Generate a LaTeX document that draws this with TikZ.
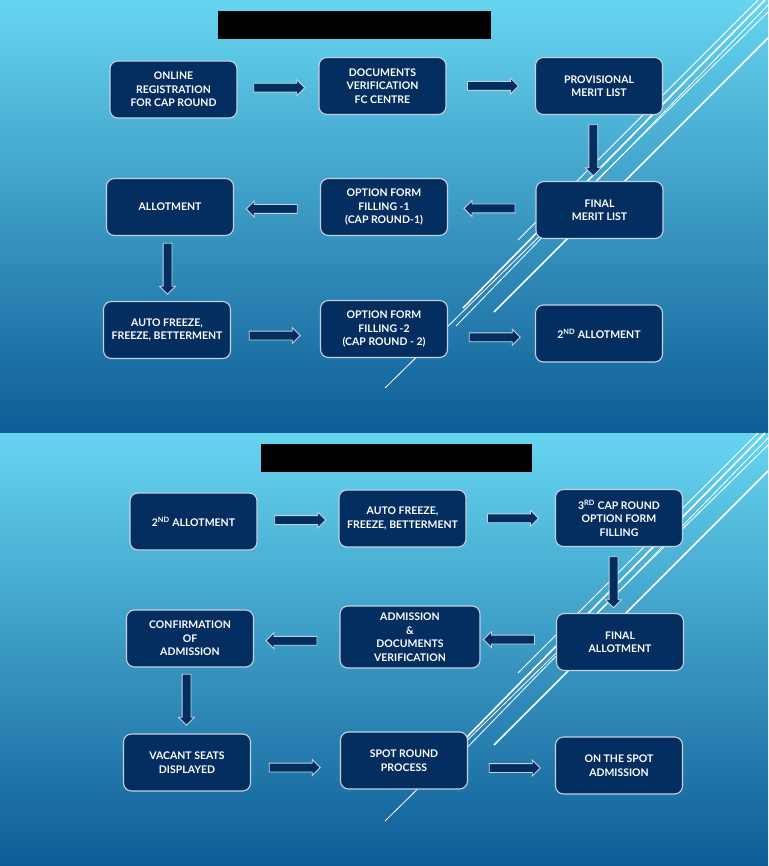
\documentclass[tikz,border=0pt]{standalone}
\usepackage{fontspec}
\setmainfont{Lato}
\usetikzlibrary{shapes.arrows,positioning,calc}
\definecolor{BoxNavy}{RGB}{4,46,96}
\definecolor{EdgeGrey}{RGB}{196,210,224}
\definecolor{SkyTop}{RGB}{102,213,240}
\definecolor{SkyBottom}{RGB}{14,92,150}
\tikzset{
  cnode/.style={rectangle,rounded corners=8pt,draw=EdgeGrey,fill=BoxNavy,line width=1.1pt,
                text=white,font=\fontsize{10.5}{13.5}\selectfont\bfseries,align=center,
                minimum width=127pt,minimum height=57pt,inner sep=2pt},
  cwide/.style={cnode,minimum width=140pt,minimum height=62pt},
  carrow/.style={single arrow,draw=EdgeGrey,fill=BoxNavy,line width=0.8pt,
                 minimum height=51pt,inner sep=0pt,inner ysep=4pt,
                 single arrow head extend=3.5pt},
  cdown/.style={carrow,rotate=-90},
  cleft/.style={carrow,rotate=180},
  sline/.style={white,line width=0.8pt},
  sthick/.style={white,line width=1.6pt},
}

\begin{document}
\begin{tikzpicture}[x=1pt,y=-1pt]
  \useasboundingbox (0,0) rectangle (768,866);

  % two slides: background, slashes, title bar
  \foreach \oy/\tl/\tr in {0/218/491,433/261/532}{
    \shade[top color=SkyTop,bottom color=SkyBottom] (0,\oy) rectangle (768,\oy+433);
    \draw[sline]  (758,\oy)    -- (518,\oy+240);
    \draw[sthick] (765,\oy)    -- (463,\oy+308);
    \draw[sline]  (768,\oy+5)  -- (456,\oy+326);
    \draw[sline]  (768,\oy+12) -- (385,\oy+388);
    \draw[sthick] (768,\oy+38) -- (494,\oy+312);
    \fill[black] (\tl,\oy+11) rectangle (\tr,\oy+39);
  }

  % first slide
  \node[cnode] (reg)    at (173.5,89.5) {ONLINE\\REGISTRATION\\FOR CAP ROUND};
  \node[cnode] (docv)   at (382.5,86)   {DOCUMENTS\\VERIFICATION\\FC CENTRE};
  \node[cnode] (prov)   at (599,86)     {PROVISIONAL\\MERIT LIST};
  \node[cnode] (finm)   at (599.5,210)  {FINAL\\MERIT LIST};
  \node[cnode] (opt1)   at (384,207)    {OPTION FORM\\FILLING -1\\(CAP ROUND-1)};
  \node[cnode] (allot)  at (170,207)    {ALLOTMENT};
  \node[cnode] (afz)    at (167,330)    {AUTO FREEZE,\\FREEZE, BETTERMENT};
  \node[cnode] (opt2)   at (384,329)    {OPTION FORM\\FILLING -2\\(CAP ROUND - 2)};
  \node[cnode] (allot2) at (599,333.5)  {2\textsuperscript{ND} ALLOTMENT};

  \node[carrow] (a1) at ($(reg.east)!0.5!(docv.west)+(-1,0)$) {};
  \node[carrow] (a2) at ($(docv.east)!0.5!(prov.west)$) {};
  \node[cdown]  (a3) at ($(prov.south)!0.5!(finm.north)+(-6,0)$) {};
  \node[cleft]  (a4) at ($(finm.west)!0.5!(opt1.east)$) {};
  \node[cleft]  (a5) at ($(opt1.west)!0.5!(allot.east)+(-3,2)$) {};
  \node[cdown]  (a6) at ($(allot.south)!0.5!(afz.north)+(-1,-2)$) {};
  \node[carrow] (a7) at ($(afz.east)!0.5!(opt2.west)+(-3,6)$) {};
  \node[carrow] (a8) at ($(opt2.east)!0.5!(allot2.west)+(1,6)$) {};

  % second slide
  \node[cnode] (allotb) at (193.5,521.5) {2\textsuperscript{ND} ALLOTMENT};
  \node[cnode] (afzb)   at (402.5,518.5) {AUTO FREEZE,\\FREEZE, BETTERMENT};
  \node[cnode] (cap3)   at (619,518)     {3\textsuperscript{RD} CAP ROUND\\OPTION FORM\\FILLING};
  \node[cnode] (fina)   at (620,642)     {FINAL\\ALLOTMENT};
  \node[cwide] (admd)   at (410,637)     {ADMISSION\\\&\\DOCUMENTS\\VERIFICATION};
  \node[cnode] (conf)   at (190,638.5)   {CONFIRMATION\\OF\\ADMISSION};
  \node[cnode] (vac)    at (187,762.5)   {VACANT SEATS\\DISPLAYED};
  \node[cnode] (spot)   at (404,760.5)   {SPOT ROUND\\PROCESS};
  \node[cnode] (onsp)   at (619,765.5)   {ON THE SPOT\\ADMISSION};

  \node[carrow] (b1) at ($(allotb.east)!0.5!(afzb.west)$) {};
  \node[carrow] (b2) at ($(afzb.east)!0.5!(cap3.west)$) {};
  \node[cdown]  (b3) at ($(cap3.south)!0.5!(fina.north)+(-6,0)$) {};
  \node[cleft]  (b4) at ($(fina.west)!0.5!(admd.east)+(-7,0)$) {};
  \node[cleft]  (b5) at ($(admd.west)!0.5!(conf.east)+(-3,3)$) {};
  \node[cdown]  (b6) at ($(conf.south)!0.5!(vac.north)+(-2,-3)$) {};
  \node[carrow] (b7) at ($(vac.east)!0.5!(spot.west)+(-3,6)$) {};
  \node[carrow] (b8) at ($(spot.east)!0.5!(onsp.west)+(1,5)$) {};
\end{tikzpicture}
\end{document}
